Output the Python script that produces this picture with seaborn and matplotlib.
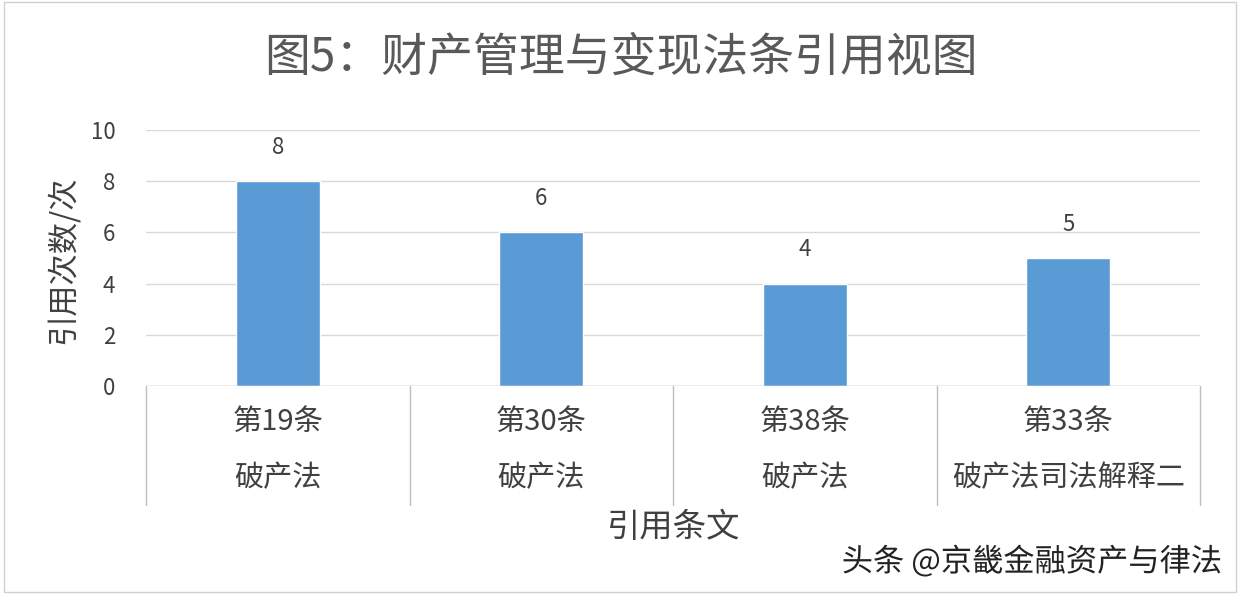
import matplotlib
matplotlib.use("Agg")
import matplotlib.pyplot as plt
import matplotlib.transforms as mtransforms
import matplotlib.patheffects as pe
import seaborn as sns
import pandas as pd

articles = ["第19条", "第30条", "第38条", "第33条"]
laws = ["破产法", "破产法", "破产法", "破产法司法解释二"]
counts = [8, 6, 4, 5]
yticks = [0, 2, 4, 6, 8, 10]
title = "图5：财产管理与变现法条引用视图"
ylabel = "引用次数/次"
xlabel = "引用条文"
watermark = "头条 @京畿金融资产与律法"

sns.set_theme(style="white")
plt.rcParams['font.family'] = ['Noto Sans CJK SC', 'DejaVu Sans']

df = pd.DataFrame({"cat": [a + "\n" + l for a, l in zip(articles, laws)], "count": counts})

fig = plt.figure(figsize=(12.4, 5.94), dpi=100)
ax = fig.add_axes([146/1240, 1-386/594, (1200-146)/1240, (386-130)/594])

sns.barplot(data=df, x="cat", y="count", color="#5B9BD5", width=0.32,
            saturation=1, ax=ax, zorder=3)

ax.set_ylim(0, 10)
ax.set_xlim(-0.5, len(counts) - 0.5)
ax.set_yticks(yticks)
ax.set_yticklabels([str(v) for v in yticks], fontsize=16, color="#404040")
ax.tick_params(axis="y", length=0, pad=22)
ax.set_xticks([])
ax.set_xlabel("")
ax.set_ylabel("")
for s in ax.spines.values():
    s.set_visible(False)
ax.grid(axis="y", color="#D9D9D9", linewidth=1, zorder=0)

# data labels
for c in ax.containers:
    ax.bar_label(c, labels=[str(v) for v in counts], padding=16, fontsize=16, color="#404040")

# multi-level category axis
trans = mtransforms.blended_transform_factory(ax.transData, ax.transAxes)
ax.axhline(0, color="#BFBFBF", linewidth=1, zorder=4)
for i in range(len(counts) + 1):
    ax.plot([i - 0.5, i - 0.5], [0, -119/256], transform=trans, color="#BFBFBF",
            linewidth=1, clip_on=False)
for i, (a, l) in enumerate(zip(articles, laws)):
    ax.text(i, -36/256, a, transform=trans, ha="center", va="center", fontsize=21, color="#404040")
    ax.text(i, -92/256, l, transform=trans, ha="center", va="center", fontsize=21, color="#404040")

fig.text((146+1200)/2/1240, 1-528/594, xlabel, ha="center", va="center", fontsize=24, color="#404040")
fig.text(62/1240, 1-260/594, ylabel, ha="center", va="center", rotation=90, fontsize=22.5, color="#404040")
fig.text(621/1240, 1-58/594, title, ha="center", va="center", fontsize=33, color="#595959",
         fontweight="light")

fig.text(1222/1240, 1-562/594, watermark, ha="right", va="center", fontsize=22.5, color="#222222",
         path_effects=[pe.withStroke(linewidth=3, foreground="white")])

# outer border
fig.patches.append(plt.Rectangle((0.003, 0.003), 0.994, 0.994, transform=fig.transFigure,
                                 fill=False, edgecolor="#D0D0D0", linewidth=1))

fig.savefig("out.png", dpi=100, facecolor="white")
